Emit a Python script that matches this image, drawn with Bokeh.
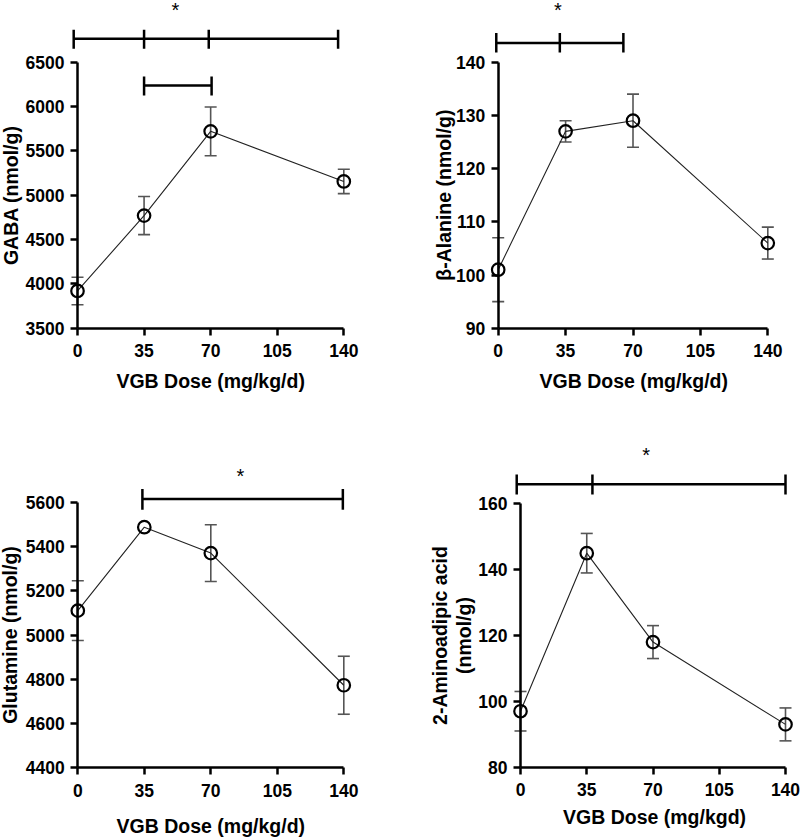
from bokeh.plotting import figure
from bokeh.models import Range1d, Label, Whisker, ColumnDataSource, FixedTicker, TeeHead
from bokeh.layouts import column, row
from bokeh.embed import file_html
from bokeh.resources import INLINE

# ---------------- data ----------------
dose = [0, 35, 70, 140]
x_ticks = [0, 35, 70, 105, 140]
x_label_d = "VGB Dose (mg/kg/d)"
x_label_kgd = "VGB Dose (mg/kgd)"

gaba_mean = [3920, 4770, 5720, 5155]
gaba_err = [155, 215, 275, 137]
gaba_ticks = [3500, 4000, 4500, 5000, 5500, 6000, 6500]

bala_mean = [101, 127, 129, 106]
bala_err = [6, 2, 5, 3]
bala_ticks = [90, 100, 110, 120, 130, 140]

gln_mean = [5110, 5487, 5370, 4773]
gln_err = [135, 20, 128, 131]
gln_ticks = [4400, 4600, 4800, 5000, 5200, 5400, 5600]

aaa_mean = [97, 145, 118, 93]
aaa_err = [6, 6, 5, 5]
aaa_ticks = [80, 100, 120, 140, 160]

# significance brackets: tick x positions, bar y, tick bottom/top y
gaba_br1_x = [-2, 35, 69, 137]
gaba_br1_y = [6764, 6651, 6865]
gaba_br2_x = [35, 70.5]
gaba_br2_y = [6237, 6124, 6339]
gaba_star = [51.5, 7114]

bala_br_x = [-1, 32, 65]
bala_br_y = [143.6, 141.8, 145.5]
bala_star = [31, 150.1]

gln_br_x = [34, 139.5]
gln_br_y = [5615, 5566, 5660]
gln_star = [85.6, 5728]

aaa_br_x = [-2, 38, 140]
aaa_br_y = [165.9, 162.8, 168.9]
aaa_star = [66.4, 175.5]

FONT = "Liberation Sans"
W, H = 400, 419


def make_panel(x0, x140, ylo, yhi, ylo_px, yhi_px, yticks,
               mean, err, brackets, star, ylabels, xlabel, xl_x, xl_off):
    kx = (x140 - x0) / 140.0
    ky = (ylo_px - yhi_px) / float(yhi - ylo)
    xr = Range1d((0 - x0) / kx, (W - x0) / kx)
    yr = Range1d(ylo - (H - ylo_px) / ky, ylo + ylo_px / ky)
    p = figure(width=W, height=H, x_range=xr, y_range=yr, output_backend="svg",
               toolbar_location=None, title=None,
               min_border_left=0, min_border_right=0,
               min_border_top=0, min_border_bottom=0)
    p.outline_line_color = None
    p.xgrid.visible = False
    p.ygrid.visible = False
    p.background_fill_color = "white"
    p.border_fill_color = "white"

    for ax in (p.xaxis, p.yaxis):
        ax.axis_line_width = 2.5
        ax.axis_line_color = "black"
        ax.major_tick_line_width = 2.5
        ax.major_tick_line_color = "black"
        ax.major_tick_out = 7
        ax.major_tick_in = 0
        ax.minor_tick_line_color = None
        ax.major_label_text_font = FONT
        ax.major_label_text_font_style = "bold"
        ax.major_label_text_font_size = "17.5px"
        ax.major_label_text_color = "black"
    p.xaxis.ticker = FixedTicker(ticks=x_ticks)
    p.yaxis.ticker = FixedTicker(ticks=yticks)
    p.xaxis.bounds = (0, 140)
    p.yaxis.bounds = (ylo, yhi)
    p.yaxis.fixed_location = 0
    p.xaxis.fixed_location = ylo
    p.xaxis.major_label_standoff = 9
    p.yaxis.major_label_standoff = 6

    # x title
    p.add_layout(Label(x=xl_x, y=ylo - xl_off / ky, text=xlabel,
                       text_align="center", text_baseline="middle",
                       text_font=FONT, text_font_style="bold",
                       text_font_size="19.5px", text_color="black"))
    # y title(s)
    for (lx, ly, txt) in ylabels:
        p.add_layout(Label(x=lx, y=ly, text=txt, angle=1.5707963,
                           text_align="center", text_baseline="middle",
                           text_font=FONT, text_font_style="bold",
                           text_font_size="19.5px", text_color="black"))

    # error bars (hidden when shorter than the symbol radius)
    r_px = 6.5
    keep = [i for i in range(len(dose)) if err[i] * ky > r_px]
    src = ColumnDataSource(dict(x=[dose[i] for i in keep],
                                upper=[mean[i] + err[i] for i in keep],
                                lower=[mean[i] - err[i] for i in keep]))
    wh = Whisker(source=src, base="x", upper="upper", lower="lower",
                 line_color="#555555", line_width=1.6,
                 upper_head=TeeHead(size=12, line_color="#555555", line_width=1.6),
                 lower_head=TeeHead(size=12, line_color="#555555", line_width=1.6))
    p.add_layout(wh)

    p.line(dose, mean, line_color="#222222", line_width=1.1)
    p.scatter(dose, mean, marker="circle", size=12.5, fill_color=None,
              line_color="black", line_width=2.2)

    # significance brackets
    for (bx, by) in brackets:
        p.segment(x0=[bx[0]], y0=[by[0]], x1=[bx[-1]], y1=[by[0]],
                  line_color="black", line_width=2.5)
        p.segment(x0=bx, y0=[by[1]] * len(bx), x1=bx, y1=[by[2]] * len(bx),
                  line_color="black", line_width=2.5)
    p.add_layout(Label(x=star[0], y=star[1] - 2 / ky, text="*",
                       text_align="center", text_baseline="middle",
                       text_font=FONT, text_font_size="20px", text_color="black"))
    return p


p1 = make_panel(77.0, 343.3, 3500, 6500, 327.7, 61.7, gaba_ticks,
                gaba_mean, gaba_err,
                [(gaba_br1_x, gaba_br1_y), (gaba_br2_x, gaba_br2_y)], gaba_star,
                [(-35.2, 5000, "GABA (nmol/g)")], x_label_d, 70, 52.3)
p2 = make_panel(97.7, 367.3, 90, 140, 327.7, 61.7, bala_ticks,
                bala_mean, bala_err, [(bala_br_x, bala_br_y)], bala_star,
                [(-28.2, 115, "β-Alanine (nmol/g)")], x_label_d, 70.4, 52.3)
p3 = make_panel(77.3, 343.3, 4400, 5600, 348.3, 82.7, gln_ticks,
                gln_mean, gln_err, [(gln_br_x, gln_br_y)], gln_star,
                [(-35.5, 5000, "Glutamine (nmol/g)")], x_label_d, 70, 57.7)
p4 = make_panel(120.0, 385.0, 80, 160, 347.7, 84.3, aaa_ticks,
                aaa_mean, aaa_err, [(aaa_br_x, aaa_br_y)], aaa_star,
                [(-42.3, 120, "2-Aminoadipic acid"), (-30.0, 120, "(nmol/g)")],
                x_label_kgd, 70.8, 50)

layout = column(row(p1, p2), row(p3, p4))
open("out.html", "w").write(file_html(layout, INLINE))
